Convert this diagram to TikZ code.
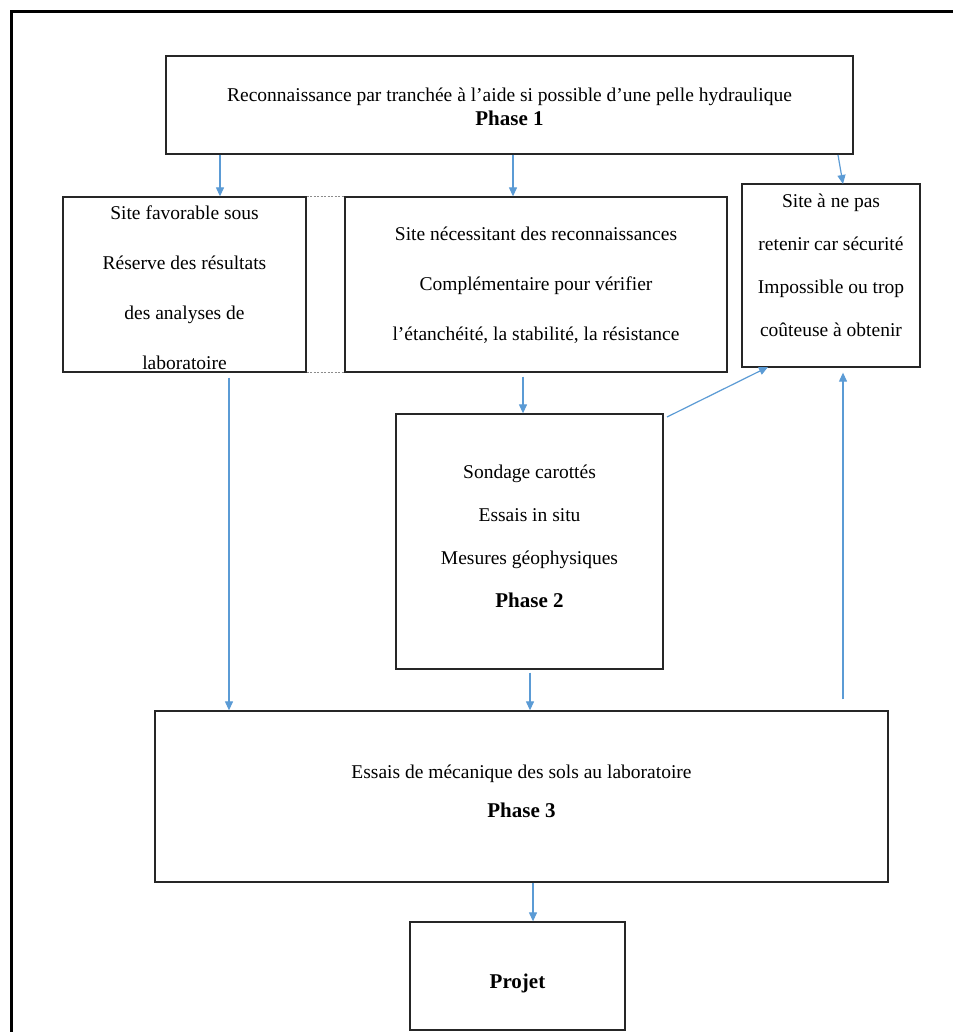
\documentclass[tikz,border=0pt]{standalone}
\usepackage{fontspec}
\setmainfont{Liberation Serif}
\usetikzlibrary{arrows.meta}
\definecolor{arrblue}{RGB}{91,155,213}
\newcommand{\phasefont}{\fontsize{21}{24}\selectfont\bfseries}
\tikzset{
  box/.style={draw=black!85, line width=1.3pt, inner sep=0pt},
  txt/.style={align=center, inner sep=0pt, font=\fontsize{19.5}{#1}\selectfont},
  txt/.default=43,
  arr/.style={draw=arrblue, line width=1.2pt, -{Triangle[length=9pt,width=8pt]}},
  dots/.style={draw=black!45, line width=0.8pt, dash pattern=on 2pt off 1.5pt},
  frame/.style={draw=black, line width=2.8pt}
}
\begin{document}
\begin{tikzpicture}[x=1pt,y=-1pt]
\useasboundingbox (0,0) rectangle (952,1032);
\fill[white] (0,0) rectangle (952,1032);
\draw[frame] (11.3,1040) -- (11.3,11.3) -- (960,11.3);

% boxes
\node[box, minimum width=687pt, minimum height=98pt] (P1) at (509.5,105) {};
\node[box, minimum width=243pt, minimum height=175pt] (A) at (184.5,284.5) {};
\node[box, minimum width=382pt, minimum height=175pt] (B) at (536,284.5) {};
\node[box, minimum width=178pt, minimum height=183pt] (C) at (831,275.5) {};
\node[box, minimum width=267pt, minimum height=255pt] (D) at (529.5,541.5) {};
\node[box, minimum width=733pt, minimum height=171pt] (E) at (521.5,796.5) {};
\node[box, minimum width=215pt, minimum height=108pt] (F) at (517.5,976) {};

% texts
\node[txt=24] (P1t) at (509.5,107) {Reconnaissance par tranchée à l’aide si possible d’une pelle hydraulique\\
  {\phasefont Phase 1}};
\node[txt=50] (At) at (184.5,288) {Site favorable sous\\Réserve des résultats\\des analyses de\\laboratoire};
\node[txt=50] (Bt) at (536,285) {Site nécessitant des reconnaissances\\Complémentaire pour vérifier\\l’étanchéité, la stabilité, la résistance};
\node[txt=43] (Ct) at (831,265.5) {Site à ne pas\\retenir car sécurité\\Impossible ou trop\\coûteuse à obtenir};
\node[txt=43] (Dt) at (529.5,536) {Sondage carottés\\Essais in situ\\Mesures géophysiques\\{\phasefont Phase 2}};
\node[txt=39] (Et) at (521.5,791.5) {Essais de mécanique des sols au laboratoire\\{\phasefont Phase 3}};
\node[txt, font=\phasefont] (Ft) at (517.5,983) {Projet};

% dotted links between A and B
\draw[dots] (A.north east) -- (B.north west);
\draw[dots] (A.south east) -- (B.south west);

% helper coordinates
\coordinate (xa) at (220,0);
\coordinate (xb) at (513,0);
\coordinate (xd) at (523,0);
\coordinate (xae) at (229,0);
\coordinate (xde) at (530,0);
\coordinate (xef) at (533,0);
\coordinate (xc) at (843,0);
\coordinate (p1c) at (838,155);
\coordinate (ctop) at (843,184);
\coordinate (dc) at (667,417);
\coordinate (cbl) at (768,367);

% arrows
\draw[arr] (P1.south -| xa) -- (A.north -| xa);
\draw[arr] (P1.south -| xb) -- (B.north -| xb);
\draw[arr] (p1c) -- (ctop);
\draw[arr] ([yshift=-4pt]B.south -| xd) -- (D.north -| xd);
\draw[arr] (dc) -- (cbl);
\draw[arr] ([yshift=-5pt]A.south -| xae) -- (E.north -| xae);
\draw[arr] ([yshift=-3pt]D.south -| xde) -- (E.north -| xde);
\draw[arr] ([yshift=11pt]E.north -| xc) -- ([yshift=-5pt]C.south -| xc);
\draw[arr] (E.south -| xef) -- (F.north -| xef);
\end{tikzpicture}
\end{document}
